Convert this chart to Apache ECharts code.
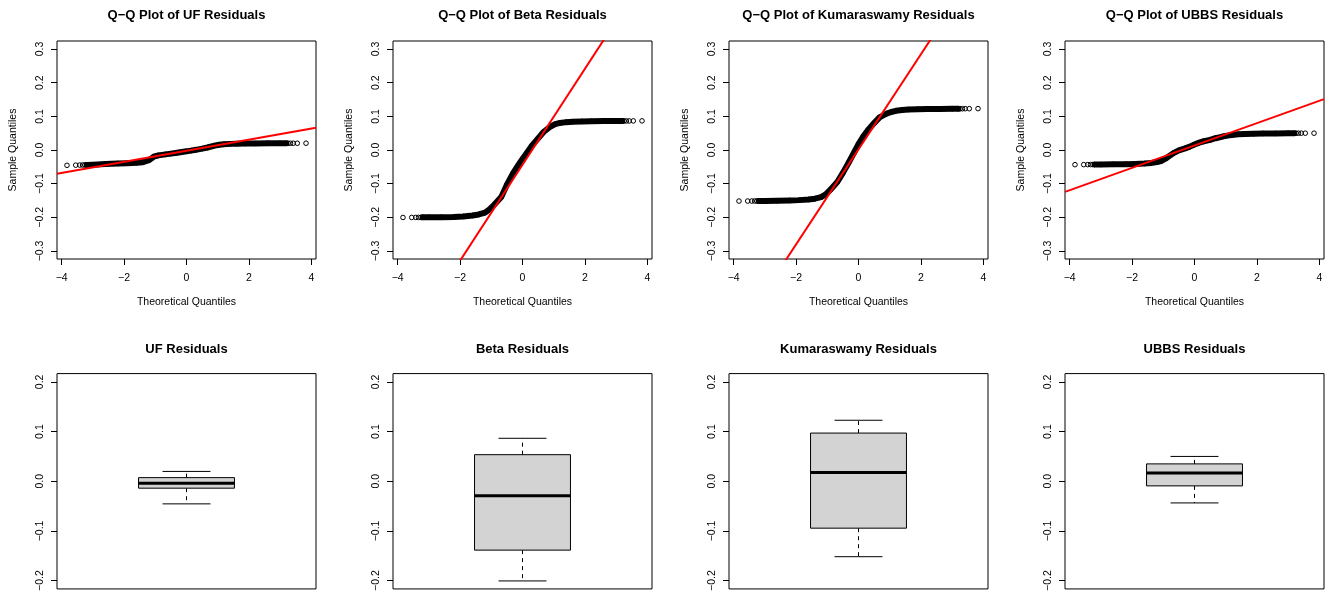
<!DOCTYPE html>
<html>
<head>
<meta charset="utf-8">
<script src="https://cdn.jsdelivr.net/npm/echarts@6/dist/echarts.min.js"></script>
<style>
html,body{margin:0;padding:0;background:#fff;}
#c{width:1335px;height:594px;}
</style>
</head>
<body>
<div id="c"></div>
<script>
// ---------- data ----------
const modelNames = ['UF', 'Beta', 'Kumaraswamy', 'UBBS'];

// theoretical normal quantiles (x of the Q-Q points)
const theoQ = [-3.83, -3.55, -3.42, -3.33, -3.26, -3.2, -3.0, -2.6, -2.2, -1.9, -1.6, -1.4, -1.2, -1.05, -0.9,
  -0.674, -0.5, -0.3, -0.15, 0, 0.15, 0.3, 0.5, 0.674, 0.9, 1.05, 1.2, 1.4, 1.6, 1.9, 2.2, 2.6, 3.0, 3.2,
  3.26, 3.33, 3.42, 3.55, 3.83];

// sample quantiles (y of the Q-Q points)
const qqUF = [-0.0455, -0.0450, -0.0448, -0.0446, -0.0445, -0.0444, -0.0436, -0.0418, -0.0402, -0.0392, -0.0378,
  -0.0362, -0.0300, -0.0200, -0.0160, -0.0130, -0.0108, -0.0080, -0.0058, -0.0040, -0.0018, 0.0005, 0.0040,
  0.0075, 0.0130, 0.0158, 0.0172, 0.0182, 0.0188, 0.0192, 0.0195, 0.0197, 0.0198, 0.0199, 0.0199, 0.0200,
  0.0200, 0.0201, 0.0202];
const qqBeta = [-0.2006, -0.2005, -0.2004, -0.2003, -0.2003, -0.2002, -0.2000, -0.1996, -0.1988, -0.1975, -0.1945,
  -0.1915, -0.1860, -0.1760, -0.1620, -0.1386, -0.1030, -0.0690, -0.0470, -0.0270, -0.0070, 0.0130, 0.0345,
  0.0535, 0.0700, 0.0770, 0.0805, 0.0828, 0.0840, 0.0850, 0.0855, 0.0859, 0.0862, 0.0863, 0.0864, 0.0864,
  0.0864, 0.0865, 0.0866];
const qqKuma = [-0.1518, -0.1517, -0.1517, -0.1516, -0.1516, -0.1515, -0.1513, -0.1508, -0.1500, -0.1490, -0.1470,
  -0.1448, -0.1400, -0.1320, -0.1180, -0.0944, -0.0680, -0.0350, -0.0090, 0.0178, 0.0400, 0.0590, 0.0800,
  0.0970, 0.1080, 0.1130, 0.1165, 0.1190, 0.1203, 0.1212, 0.1218, 0.1222, 0.1225, 0.1226, 0.1227, 0.1227,
  0.1228, 0.1228, 0.1230];
const qqUBBS = [-0.0436, -0.0435, -0.0434, -0.0433, -0.0433, -0.0432, -0.0430, -0.0426, -0.0420, -0.0413, -0.0402,
  -0.0388, -0.0360, -0.0320, -0.0240, -0.0093, -0.0010, 0.0050, 0.0100, 0.0165, 0.0220, 0.0260, 0.0300,
  0.0350, 0.0400, 0.0428, 0.0448, 0.0465, 0.0476, 0.0485, 0.0490, 0.0494, 0.0497, 0.0498, 0.0499, 0.0499,
  0.0500, 0.0500, 0.0500];

// reference (qqline) end points per panel
const qqLineX1 = [-4.15, -2.0, -2.35, -4.15];
const qqLineY1 = [-0.0705, -0.329, -0.330, -0.1245];
const qqLineX2 = [4.15, 2.65, 2.35, 4.15];
const qqLineY2 = [0.0664, 0.334, 0.334, 0.1511];

// box plot five-number summaries
const boxLow    = [-0.0455, -0.2006, -0.1518, -0.0436];
const boxQ1     = [-0.0139, -0.1386, -0.0944, -0.0093];
const boxMedian = [-0.0040, -0.0290,  0.0178,  0.0165];
const boxQ3     = [ 0.0073,  0.0535,  0.0970,  0.0350];
const boxHigh   = [ 0.0198,  0.0865,  0.1228,  0.0500];

// tick labels
const qqXTicks = [-4, -2, 0, 2, 4];
const qqYTicks = [-0.3, -0.2, -0.1, 0, 0.1, 0.2, 0.3];
const boxYTicks = [-0.2, -0.1, 0, 0.1, 0.2];

// ---------- layout / style ----------
const FONT = '"Liberation Sans", Arial, Helvetica, sans-serif';
const panelLeft = [57, 393, 729, 1065];
const panelWidth = 259;
const topRow = { top: 41, height: 218 };
const botRow = { top: 373.6, height: 218.8 };
const qqSeriesY = [qqUF, qqBeta, qqKuma, qqUBBS];

const minus = s => String(s).replace('-', '\u2212');
const fmt1 = v => minus((Math.abs(v) < 1e-9 ? 0 : v).toFixed(1));
const fmt0 = v => minus(Math.round(v));

const grids = [], xAxes = [], yAxes = [], series = [], titles = [];

function valueAxisBase(ticks, formatter, extra) {
  return Object.assign({
    type: 'value',
    axisLine: { show: false, onZero: false },
    splitLine: { show: false },
    axisTick: { show: true, inside: false, length: 6, customValues: ticks, lineStyle: { color: '#000', width: 1 } },
    axisLabel: { show: true, customValues: ticks, formatter: formatter, color: '#000', fontSize: 10.5, fontFamily: FONT },
    nameTextStyle: { color: '#000', fontSize: 10.5, fontFamily: FONT }
  }, extra);
}

for (let i = 0; i < 4; i++) {
  grids.push({ left: panelLeft[i], top: topRow.top, width: panelWidth, height: topRow.height,
    show: true, borderColor: '#000', borderWidth: 1, backgroundColor: 'transparent' });
  grids.push({ left: panelLeft[i], top: botRow.top, width: panelWidth, height: botRow.height,
    show: true, borderColor: '#000', borderWidth: 1, backgroundColor: 'transparent' });
}

for (let i = 0; i < 4; i++) {
  const gq = 2 * i, gb = 2 * i + 1;
  const cx = panelLeft[i] + panelWidth / 2;

  const xq = valueAxisBase(qqXTicks, fmt0, {
    gridIndex: gq, min: -4.15, max: 4.15,
    name: 'Theoretical Quantiles', nameLocation: 'middle', nameGap: 38
  });
  xq.axisLabel.margin = 14;
  xAxes.push(xq);

  const yq = valueAxisBase(qqYTicks, fmt1, {
    gridIndex: gq, min: -0.324, max: 0.324,
    name: 'Sample Quantiles', nameLocation: 'middle', nameGap: 38
  });
  yq.axisLabel.rotate = 90;
  yq.axisLabel.margin = 11;
  yAxes.push(yq);

  xAxes.push({ type: 'value', gridIndex: gb, min: 0.46, max: 1.54, show: false, axisLine: { onZero: false } });
  const yb = valueAxisBase(boxYTicks, fmt1, { gridIndex: gb, min: -0.2167, max: 0.2167 });
  yb.axisLabel.rotate = 90;
  yb.axisLabel.margin = 11;
  yAxes.push(yb);

  const pts = theoQ.map((x, k) => [x, qqSeriesY[i][k]]);

  series.push({
    type: 'line', xAxisIndex: gq, yAxisIndex: gq, silent: true, animation: false,
    data: pts.filter(p => Math.abs(p[0]) <= 3.2),
    showSymbol: false, symbol: 'none', clip: true, z: 2,
    lineStyle: { color: '#000', width: 6, cap: 'round', join: 'round' }
  });
  series.push({
    type: 'scatter', xAxisIndex: gq, yAxisIndex: gq, silent: true, animation: false,
    data: pts, symbol: 'circle', symbolSize: 4.6, z: 3,
    itemStyle: { color: 'rgba(0,0,0,0)', borderColor: '#000', borderWidth: 1, opacity: 1 }
  });
  series.push({
    type: 'line', xAxisIndex: gq, yAxisIndex: gq, silent: true, animation: false,
    data: [[qqLineX1[i], qqLineY1[i]], [qqLineX2[i], qqLineY2[i]]],
    showSymbol: false, symbol: 'none', clip: true, z: 4,
    lineStyle: { color: '#ff0000', width: 2 }
  });
  series.push({
    type: 'custom', xAxisIndex: gb, yAxisIndex: gb, silent: true, animation: false,
    data: [[1, boxLow[i], boxQ1[i], boxMedian[i], boxQ3[i], boxHigh[i]]],
    renderItem: function (params, api) {
      const c = api.value(0);
      const Y = k => api.coord([c, api.value(k)])[1];
      const left = api.coord([c - 0.2, 0])[0], right = api.coord([c + 0.2, 0])[0];
      const capL = api.coord([c - 0.1, 0])[0], capR = api.coord([c + 0.1, 0])[0];
      const xc = api.coord([c, 0])[0];
      const yLow = Y(1), yQ1 = Y(2), yMed = Y(3), yQ3 = Y(4), yHigh = Y(5);
      const solid = { stroke: '#000', lineWidth: 1, fill: null };
      const dashed = { stroke: '#000', lineWidth: 1, lineDash: [4, 4], fill: null };
      return {
        type: 'group', children: [
          { type: 'line', shape: { x1: xc, y1: yQ3, x2: xc, y2: yHigh }, style: dashed },
          { type: 'line', shape: { x1: xc, y1: yQ1, x2: xc, y2: yLow }, style: dashed },
          { type: 'line', shape: { x1: capL, y1: yHigh, x2: capR, y2: yHigh }, style: solid },
          { type: 'line', shape: { x1: capL, y1: yLow, x2: capR, y2: yLow }, style: solid },
          { type: 'rect', shape: { x: left, y: yQ3, width: right - left, height: yQ1 - yQ3 },
            style: { fill: '#d3d3d3', stroke: '#000', lineWidth: 1 } },
          { type: 'line', shape: { x1: left, y1: yMed, x2: right, y2: yMed }, style: { stroke: '#000', lineWidth: 3 } }
        ]
      };
    }
  });

  titles.push({
    text: 'Q\u2212Q Plot of ' + modelNames[i] + ' Residuals', left: cx, top: 9, padding: 0,
    textAlign: 'center', textVerticalAlign: 'top',
    textStyle: { fontSize: 13, fontWeight: 'bold', color: '#000', fontFamily: FONT }
  });
  titles.push({
    text: modelNames[i] + ' Residuals', left: cx, top: 342.5, padding: 0,
    textAlign: 'center', textVerticalAlign: 'top',
    textStyle: { fontSize: 13, fontWeight: 'bold', color: '#000', fontFamily: FONT }
  });
}

const chart = echarts.init(document.getElementById('c'), null, { renderer: 'canvas' });
chart.setOption({
  animation: false,
  backgroundColor: '#fff',
  textStyle: { fontFamily: FONT },
  title: titles,
  grid: grids,
  xAxis: xAxes,
  yAxis: yAxes,
  series: series
});
</script>
</body>
</html>
